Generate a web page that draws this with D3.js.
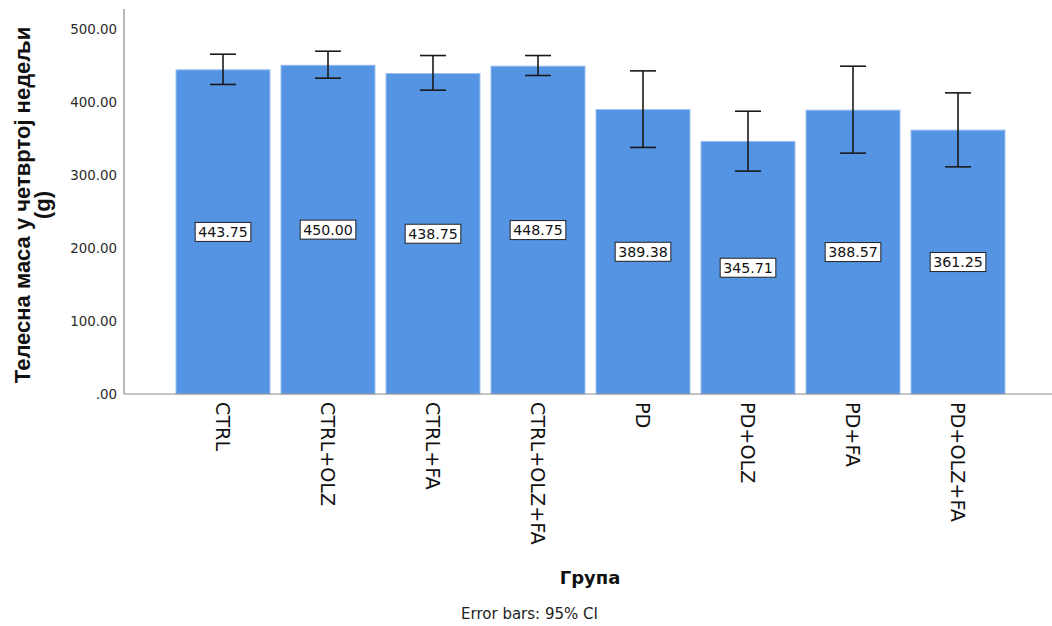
<!DOCTYPE html>
<html>
<head>
<meta charset="utf-8">
<script src="https://cdn.jsdelivr.net/npm/d3@7"></script>
<style>
  html, body { margin: 0; padding: 0; background: #fff; }
  svg { display: block; }
</style>
</head>
<body>
<svg id="chart" width="1052" height="626"></svg>
<script>
// Group labels, mean body mass in week four and the 95% CI bounds
const categories = ["CTRL", "CTRL+OLZ", "CTRL+FA", "CTRL+OLZ+FA", "PD", "PD+OLZ", "PD+FA", "PD+OLZ+FA"];
const means = [443.75, 450.00, 438.75, 448.75, 389.38, 345.71, 388.57, 361.25];
const ciLow = [423.7, 432.3, 415.9, 436.0, 337.5, 305.1, 329.7, 310.9];
const ciHigh = [465.1, 469.2, 463.3, 463.3, 442.3, 387.1, 448.7, 412.2];
const yTicks = [0, 100, 200, 300, 400, 500];

const yTitleLines = ["Телесна маса у четвртој недељи", "(g)"];
const xTitle = "Група";
const footnote = "Error bars: 95% CI";

const svg = d3.select("#chart");

const axisX = 124;
const baseY = 394;
const topY = 9;

const y = d3.scaleLinear().domain([0, 527]).range([baseY, topY]);
const x = d3.scaleBand()
  .domain(categories)
  .range([170.5, 1010.5])
  .paddingInner(0.105)
  .paddingOuter(0.0525);

const fmtTick = v => d3.format(".2f")(v).replace(/^0(?=\.)/, "");

// y tick labels (no tick marks)
svg.append("g")
  .selectAll("text")
  .data(yTicks)
  .join("text")
  .attr("x", axisX - 7)
  .attr("y", d => y(d))
  .attr("dy", "0.36em")
  .attr("text-anchor", "end")
  .attr("font-family", "DejaVu Sans")
  .attr("font-size", 13.4)
  .attr("fill", "#2a2a2a")
  .text(fmtTick);

// bars
const data = categories.map((c, i) => ({ c, m: means[i], lo: ciLow[i], hi: ciHigh[i] }));

svg.append("g")
  .selectAll("rect")
  .data(data)
  .join("rect")
  .attr("x", d => x(d.c))
  .attr("y", d => y(d.m))
  .attr("width", x.bandwidth())
  .attr("height", d => y(0) - y(d.m))
  .attr("fill", "#5594e3")
  .attr("stroke", "#9cc0ee")
  .attr("stroke-width", 1);

// axis lines
svg.append("line")
  .attr("x1", axisX).attr("x2", axisX)
  .attr("y1", topY).attr("y2", baseY)
  .attr("stroke", "#8a8a8a").attr("stroke-width", 1.2);
svg.append("line")
  .attr("x1", axisX).attr("x2", 1052)
  .attr("y1", baseY).attr("y2", baseY)
  .attr("stroke", "#8a8a8a").attr("stroke-width", 1.2);

// error bars
const capHalf = 13;
const eb = svg.append("g").attr("stroke", "#1a1a1a").attr("stroke-width", 1.6);
data.forEach(d => {
  const cx = x(d.c) + x.bandwidth() / 2;
  eb.append("line").attr("x1", cx).attr("x2", cx).attr("y1", y(d.hi)).attr("y2", y(d.lo));
  eb.append("line").attr("x1", cx - capHalf).attr("x2", cx + capHalf).attr("y1", y(d.hi)).attr("y2", y(d.hi));
  eb.append("line").attr("x1", cx - capHalf).attr("x2", cx + capHalf).attr("y1", y(d.lo)).attr("y2", y(d.lo));
});

// value labels in boxes at the middle of each bar
const lbl = svg.append("g");
data.forEach(d => {
  const cx = x(d.c) + x.bandwidth() / 2;
  const cy = (y(d.m) + y(0)) / 2;
  const g = lbl.append("g");
  const t = g.append("text")
    .attr("x", cx).attr("y", cy)
    .attr("dy", "0.36em")
    .attr("text-anchor", "middle")
    .attr("font-family", "DejaVu Sans")
    .attr("font-size", 14.2)
    .attr("fill", "#111")
    .text(d.m.toFixed(2));
  const w = t.node().getComputedTextLength() + 6;
  g.insert("rect", "text")
    .attr("x", cx - w / 2).attr("y", cy - 9.5)
    .attr("width", w).attr("height", 19)
    .attr("fill", "#fff").attr("stroke", "#222").attr("stroke-width", 1);
});

// category labels, rotated
svg.append("g")
  .selectAll("text")
  .data(categories)
  .join("text")
  .attr("transform", d => `translate(${x(d) + x.bandwidth() / 2},402) rotate(90)`)
  .attr("dy", "0.36em")
  .attr("text-anchor", "start")
  .attr("font-family", "DejaVu Sans")
  .attr("font-size", 19.2)
  .attr("fill", "#111")
  .text(d => d);

// y axis title
const yt = svg.append("text")
  .attr("transform", "translate(30,205) rotate(-90)")
  .attr("text-anchor", "middle")
  .attr("font-family", "Liberation Sans")
  .attr("font-weight", "bold")
  .attr("font-size", 22)
  .attr("fill", "#111");
yTitleLines.forEach((s, i) => {
  yt.append("tspan").attr("x", 0).attr("dy", i === 0 ? 0 : 20).text(s);
});

// x axis title
svg.append("text")
  .attr("x", 590).attr("y", 584)
  .attr("text-anchor", "middle")
  .attr("font-family", "DejaVu Sans")
  .attr("font-weight", "bold")
  .attr("font-size", 18)
  .attr("fill", "#111")
  .text(xTitle);

// footnote
svg.append("text")
  .attr("x", 529.5).attr("y", 619)
  .attr("text-anchor", "middle")
  .attr("font-family", "DejaVu Sans")
  .attr("font-size", 15)
  .attr("fill", "#222")
  .text(footnote);
</script>
</body>
</html>
